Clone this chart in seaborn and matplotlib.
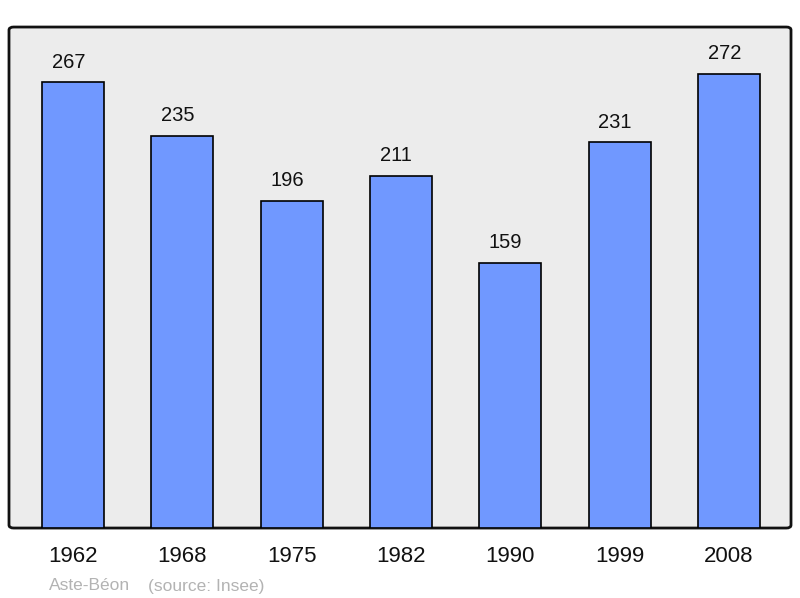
import matplotlib
matplotlib.use("Agg")
import matplotlib.pyplot as plt
import seaborn as sns
from matplotlib.patches import FancyBboxPatch

# Data
years = ["1962", "1968", "1975", "1982", "1990", "1999", "2008"]
population = [267, 235, 196, 211, 159, 231, 272]
town = "Aste-Béon"
source = "(source: Insee)"

sns.set_theme(style="white")
plt.rcParams['font.family'] = ['Liberation Sans', 'DejaVu Sans']

fig = plt.figure(figsize=(8, 5.98), dpi=100)
ax = fig.add_axes([0.01125, 0.117, 0.9775, 0.8378])
ax.set_facecolor("none")

sns.barplot(x=years, y=population, color="#7098ff", edgecolor="black",
            linewidth=1.2, width=0.567, saturation=1, ax=ax, zorder=2)

ax.set_xlim(-0.585, 6.567)
ax.set_ylim(0, 300)

# value labels above bars (slightly left of the bar centre, as in the original)
for i, v in enumerate(population):
    ax.annotate(str(v), (i, v), xytext=(-3.3, 14.5), textcoords="offset points",
                ha="center", va="center", fontsize=14.5, color="#111111")

# frame with rounded corners
for s in ax.spines.values():
    s.set_visible(False)
frame = FancyBboxPatch((0, 0), 1, 1, boxstyle="round,pad=0,rounding_size=0.006",
                       transform=ax.transAxes, facecolor="#ececec", edgecolor="#111111",
                       linewidth=2, zorder=0, clip_on=False)
ax.add_patch(frame)

ax.set_yticks([])
ax.tick_params(axis="x", length=0, pad=13, labelsize=16, labelcolor="#111111")
ax.set_xlabel("")
ax.set_ylabel("")

fig.text(49 / 800, 1 - 586 / 598, town, fontsize=12.5, color="#b3b3b3", va="center")
fig.text(148 / 800, 1 - 586 / 598, source, fontsize=12.5, color="#b3b3b3", va="center")

fig.savefig("out.png", dpi=100)
